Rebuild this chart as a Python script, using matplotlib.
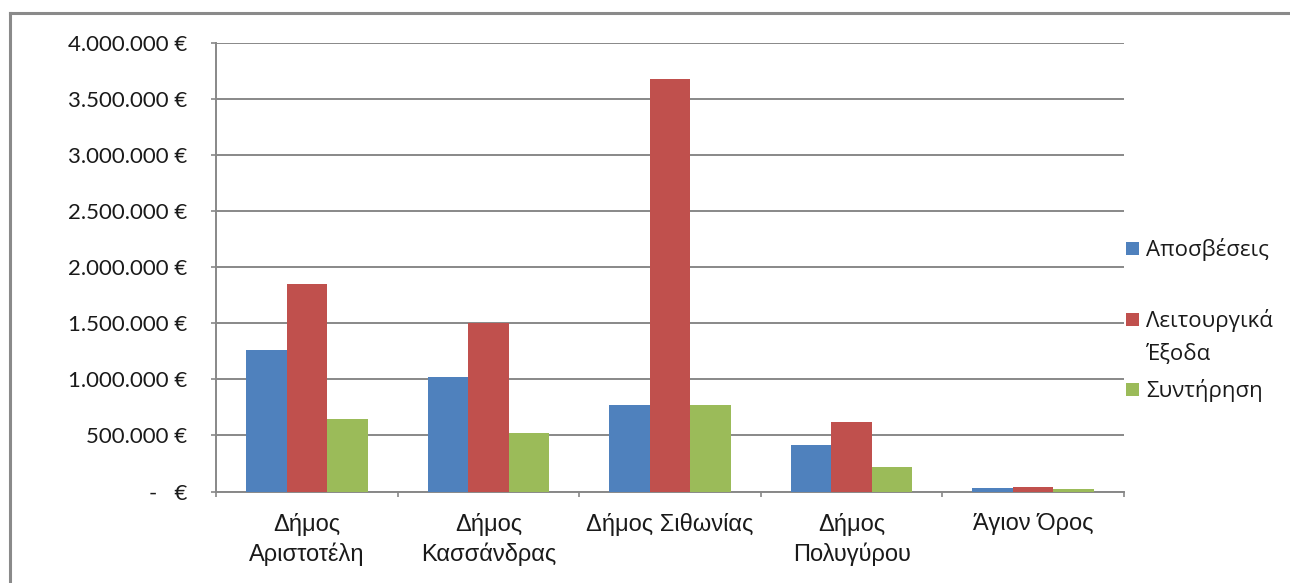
import matplotlib
matplotlib.use("Agg")
import matplotlib.pyplot as plt
from matplotlib.lines import Line2D
from matplotlib.patches import Rectangle
from matplotlib.ticker import FuncFormatter, FixedLocator
import numpy as np

# Data
categories = ["Δήμος\nΑριστοτέλη", "Δήμος\nΚασσάνδρας", "Δήμος Σιθωνίας",
              "Δήμος\nΠολυγύρου", "Άγιον Όρος"]
series_names = ["Αποσβέσεις", "Λειτουργικά\nΈξοδα", "Συντήρηση"]
apostheseis = [1265000, 1020000, 768000, 417000, 27000]
leitourgika = [1848000, 1503000, 3678000, 622000, 38000]
syntirisi = [643000, 518000, 768000, 220000, 18000]
series_values = [apostheseis, leitourgika, syntirisi]
colors = ["#4F81BD", "#C0504D", "#9BBB59"]
y_ticks = [0, 500000, 1000000, 1500000, 2000000, 2500000, 3000000, 3500000, 4000000]

W, H = 1290, 583
fig = plt.figure(figsize=(W / 100, H / 100), dpi=100)
fig.patch.set_facecolor("white")

ax_left, ax_right, ax_top, ax_bottom = 216, 1124, 43, 491.5
ax = fig.add_axes([ax_left / W, (H - ax_bottom) / H,
                   (ax_right - ax_left) / W, (ax_bottom - ax_top) / H])

n = len(categories)
x = np.arange(n)
bar_w = 0.223
grid_c = "#888888"
text_c = "#1a1a1a"

for i, (vals, col) in enumerate(zip(series_values, colors)):
    ax.bar(x + (i - 1) * bar_w, vals, width=bar_w, color=col,
           edgecolor="none", zorder=3)

ax.set_xlim(-0.5, n - 0.5)
ax.set_ylim(0, 4000000)

ax.yaxis.set_major_locator(FixedLocator(y_ticks))


def euro(v, pos):
    if v == 0:
        return "-   €"
    return f"{int(v):,}".replace(",", ".") + " €"


ax.yaxis.set_major_formatter(FuncFormatter(euro))
ax.grid(axis="y", color=grid_c, linewidth=1.4, zorder=0)
ax.set_axisbelow(True)

for s in ["top", "right"]:
    ax.spines[s].set_visible(False)
for s in ["left", "bottom"]:
    ax.spines[s].set_color(grid_c)
    ax.spines[s].set_linewidth(1.4)

ax.tick_params(axis="y", length=3.6, width=1.2, color=grid_c, pad=17,
               labelsize=16, labelcolor=text_c)
for lbl in ax.get_yticklabels():
    lbl.set_fontfamily("Lato")

# category boundaries carry the tick marks; labels sit at the centers
ax.set_xticks(np.arange(n + 1) - 0.5)
ax.set_xticklabels([])
ax.tick_params(axis="x", length=3.6, width=1.2, color=grid_c)
ax.set_xticks(x, minor=True)
ax.set_xticklabels(categories, minor=True, fontsize=17,
                   fontfamily="Liberation Sans", color=text_c,
                   linespacing=1.37)
ax.tick_params(axis="x", which="minor", length=0, pad=15.5)

# legend: square marker plus label lines
leg_baselines = [256, 327, 397]
line_step = 33
sq = 13
for name, col, base in zip(series_names, colors, leg_baselines):
    fig.add_artist(Rectangle((1126 / W, (H - base + 1) / H), sq / W, sq / H,
                             transform=fig.transFigure, facecolor=col,
                             edgecolor="none"))
    for j, line in enumerate(name.split("\n")):
        fig.text(1146 / W, (H - base - j * line_step) / H, line,
                 fontsize=16, fontfamily="Open Sans", color=text_c,
                 va="baseline", transform=fig.transFigure)

# outer frame of the chart area
fig.add_artist(Line2D([9.5 / W, 9.5 / W], [0, (H - 13) / H],
                      transform=fig.transFigure, color="#8a8a8a", lw=2.2))
fig.add_artist(Line2D([9.5 / W, 1], [(H - 13) / H, (H - 13) / H],
                      transform=fig.transFigure, color="#8a8a8a", lw=2.2))

fig.savefig("out.png", dpi=100, facecolor="white")
